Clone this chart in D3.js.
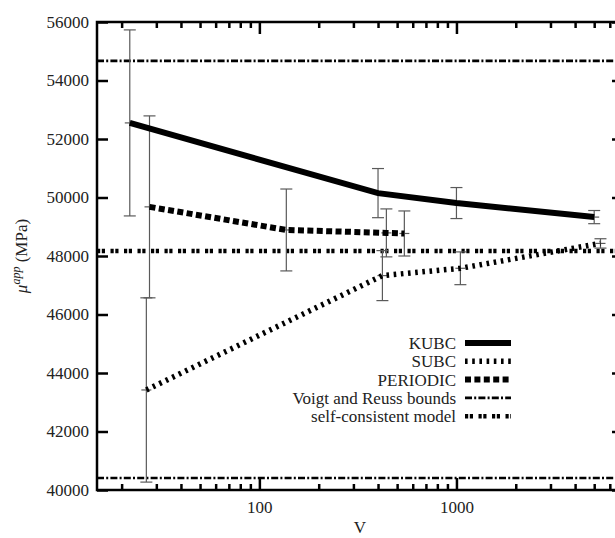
<!DOCTYPE html>
<html lang="en">
<head>
<meta charset="UTF-8">
<title>apparent shear modulus vs V</title>
<script src="https://cdn.jsdelivr.net/npm/d3@7"></script>
<style>
  body { margin: 0; background: #fff; }
  text { font-family: "Liberation Serif", "Times New Roman", serif; fill: #222; }
</style>
</head>
<body>
<script>
// values
const kubcV   = [22, 400, 1000, 5000]
const kubcMu  = [52550, 50150, 49810, 49330]
const kubcErr = [3180, 840, 530, 225]

const subcV   = [26.7, 421, 1047, 5380]
const subcMu  = [43420, 47330, 47580, 48430]
const subcErr = [3150, 855, 560, 160]

const perV    = [27.7, 137, 441, 544]
const perMu   = [49680, 48890, 48790, 48770]
const perErr  = [3110, 1400, 820, 770]

const voigtBound = 54670
const reussBound = 40410
const selfConsistent = 48170

const yTicks = [40000, 42000, 44000, 46000, 48000, 50000, 52000, 54000, 56000]
const xMajor = [100, 1000]
const xMinor = [20, 30, 40, 50, 60, 70, 80, 90, 200, 300, 400, 500, 600, 700, 800, 900, 2000, 3000, 4000, 5000, 6000, 7000]
const legendNames = ["KUBC", "SUBC", "PERIODIC", "Voigt and Reuss bounds", "self-consistent model"]

const W = 615, H = 538
const pLeft = 97, pRight = 623, pTop = 22, pBottom = 490

const svg = d3.select("body").append("svg").attr("width", W).attr("height", H)

const x = d3.scaleLog().domain([15, 7000]).range([pLeft, pRight])
const y = d3.scaleLinear().domain([40000, 56000]).range([pBottom, pTop])

const styles = {
    kubc:  {w: 6, dash: null},
    subc:  {w: 5.5, dash: "2.6,4.6"},
    per:   {w: 6, dash: "6,3.4"},
    bound: {w: 2.6, dash: "7,2.2,2,2.2"},
    sc:    {w: 4.5, dash: "3.2,1.6,3.2,5.5"}
}

svg.append("clipPath").attr("id", "clip")
   .append("rect").attr("x", pLeft).attr("y", pTop).attr("width", pRight - pLeft).attr("height", pBottom - pTop)

const plot = svg.append("g").attr("clip-path", "url(#clip)")

// horizontal reference lines
function hline(v, st) {
    plot.append("line")
        .attr("x1", pLeft).attr("x2", pRight)
        .attr("y1", y(v)).attr("y2", y(v))
        .attr("stroke", "#000").attr("stroke-width", st.w)
        .attr("stroke-dasharray", st.dash)
}
hline(voigtBound, styles.bound)
hline(reussBound, styles.bound)
hline(selfConsistent, styles.sc)

// error bars
function errorBars(vs, mus, errs) {
    const g = plot.append("g").attr("stroke", "#5a5a5a").attr("stroke-width", 1.2)
    vs.forEach((v, i) => {
        const cx = x(v)
        g.append("line").attr("x1", cx).attr("x2", cx).attr("y1", y(mus[i] - errs[i])).attr("y2", y(mus[i] + errs[i]))
        g.append("line").attr("x1", cx - 6).attr("x2", cx + 6).attr("y1", y(mus[i] - errs[i])).attr("y2", y(mus[i] - errs[i]))
        g.append("line").attr("x1", cx - 6).attr("x2", cx + 6).attr("y1", y(mus[i] + errs[i])).attr("y2", y(mus[i] + errs[i]))
        g.append("line").attr("x1", cx - 5).attr("x2", cx + 5).attr("y1", y(mus[i])).attr("y2", y(mus[i]))
    })
}
errorBars(kubcV, kubcMu, kubcErr)
errorBars(perV, perMu, perErr)
errorBars(subcV, subcMu, subcErr)

const line = d3.line().x(d => x(d[0])).y(d => y(d[1]))

function series(vs, mus, st) {
    plot.append("path")
        .datum(vs.map((v, i) => [v, mus[i]]))
        .attr("d", line)
        .attr("fill", "none")
        .attr("stroke", "#000")
        .attr("stroke-width", st.w)
        .attr("stroke-dasharray", st.dash)
}
series(kubcV, kubcMu, styles.kubc)
series(perV, perMu, styles.per)
series(subcV, subcMu, styles.subc)

// axes
const axisStyle = g => {
    g.select(".domain").remove()
    g.selectAll(".tick line").attr("stroke", "#000").attr("stroke-width", 2.5)
    g.selectAll("text").attr("font-size", 17).attr("fill", "#222")
}

svg.append("g").attr("transform", `translate(0,${pBottom})`)
    .call(d3.axisBottom(x).tickValues(xMajor).tickSize(-12).tickPadding(11).tickFormat(d3.format("d")))
    .call(axisStyle)
svg.append("g").attr("transform", `translate(0,${pBottom})`)
    .call(d3.axisBottom(x).tickValues(xMinor).tickSize(-6).tickFormat(""))
    .call(axisStyle)
svg.append("g").attr("transform", `translate(0,${pTop})`)
    .call(d3.axisTop(x).tickValues(xMajor).tickSize(-12).tickFormat(""))
    .call(axisStyle)
svg.append("g").attr("transform", `translate(0,${pTop})`)
    .call(d3.axisTop(x).tickValues(xMinor).tickSize(-6).tickFormat(""))
    .call(axisStyle)

svg.append("g").attr("transform", `translate(${pLeft},0)`)
    .call(d3.axisLeft(y).tickValues(yTicks).tickSize(-11).tickPadding(8).tickFormat(d3.format("d")))
    .call(axisStyle)
svg.append("g").attr("transform", `translate(${pRight},0)`)
    .call(d3.axisRight(y).tickValues(yTicks).tickSize(-11).tickFormat(""))
    .call(axisStyle)

svg.append("rect")
    .attr("x", pLeft).attr("y", pTop).attr("width", pRight - pLeft).attr("height", pBottom - pTop)
    .attr("fill", "none").attr("stroke", "#000").attr("stroke-width", 2.5)

// axis titles
svg.append("text")
    .attr("x", (pLeft + pRight) / 2).attr("y", 533)
    .attr("text-anchor", "middle").attr("font-size", 17)
    .text("V")

const yl = svg.append("text")
    .attr("transform", `translate(27,${(pTop + pBottom) / 2}) rotate(-90)`)
    .attr("text-anchor", "middle").attr("font-size", 17)
yl.append("tspan").attr("font-style", "italic").text("μ")
yl.append("tspan").attr("font-style", "italic").attr("font-size", 12).attr("dy", -7).text("app")
yl.append("tspan").attr("dy", 7).text(" (MPa)")

// legend
const legendStyles = [styles.kubc, styles.subc, styles.per, styles.bound, styles.sc]
const legend = svg.append("g")
legendNames.forEach((name, i) => {
    const ly = 343 + i * 18.3
    legend.append("text")
        .attr("x", 456).attr("y", ly + 6)
        .attr("text-anchor", "end").attr("font-size", 17)
        .text(name)
    legend.append("line")
        .attr("x1", 465).attr("x2", 511).attr("y1", ly).attr("y2", ly)
        .attr("stroke", "#000").attr("stroke-width", legendStyles[i].w)
        .attr("stroke-dasharray", legendStyles[i].dash)
})
</script>
</body>
</html>
